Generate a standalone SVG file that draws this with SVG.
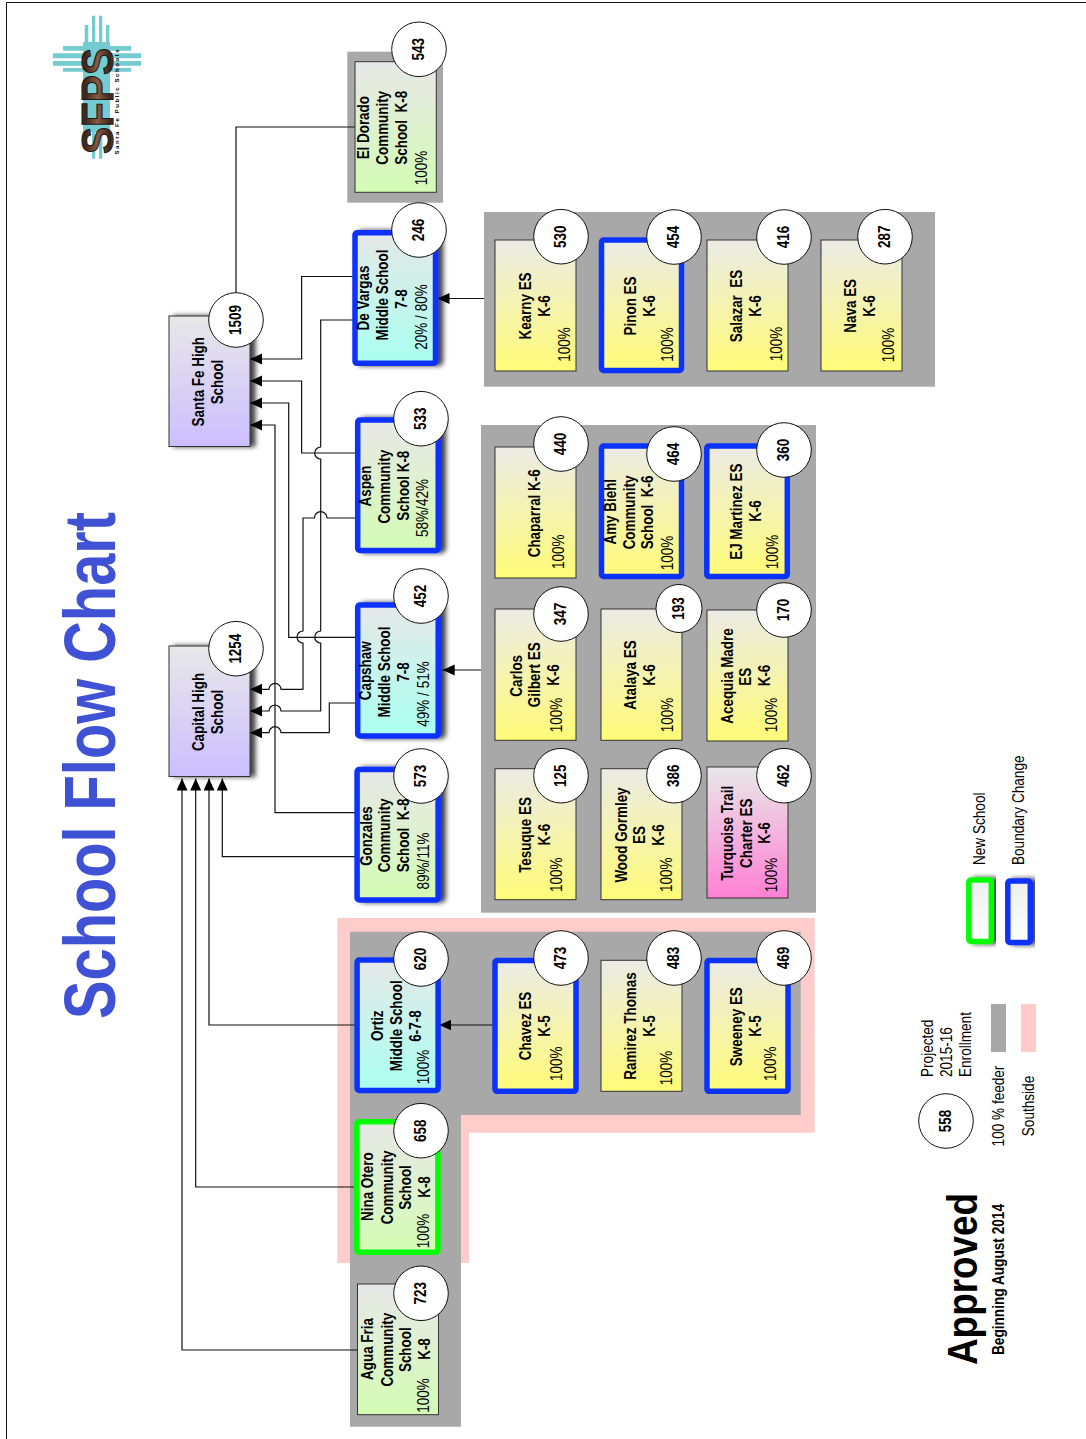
<svg xmlns="http://www.w3.org/2000/svg" width="1086" height="1439" viewBox="0 0 1086 1439">
<style>
text{font-family:"Liberation Sans",Arial,sans-serif;font-size:17px;fill:#000;text-anchor:middle}
.b{font-weight:bold}
.s{text-anchor:start}
.c{fill:#fff;stroke:#111;stroke-width:1}
.p{stroke:#333;stroke-width:1}
.blue{stroke:#0a33ff;stroke-width:5.5}
.green{stroke:#00ff00;stroke-width:5.5}
.g{fill:#a8a8a8}
.k{fill:#ffcccc}
.y{fill:url(#gy)}.gr{fill:url(#gg)}.cy{fill:url(#gc)}.l{fill:url(#gl)}.pk{fill:url(#gp)}.w{fill:url(#gw)}
.sh{filter:url(#shadow)}
#connectors path{fill:none;stroke:#111;stroke-width:1.2}
.a{marker-end:url(#arrow)}
.t{fill:#75ccd0}
</style>
<defs>
<linearGradient id="gy" x1="0" y1="0" x2="0" y2="1"><stop offset="0" stop-color="#ebebe6"/><stop offset="1" stop-color="#fffb78"/></linearGradient>
<linearGradient id="gg" x1="0" y1="0" x2="0" y2="1"><stop offset="0" stop-color="#e8e8e8"/><stop offset="1" stop-color="#d4fbb4"/></linearGradient>
<linearGradient id="gc" x1="0" y1="0" x2="0" y2="1"><stop offset="0" stop-color="#e6e8e8"/><stop offset="1" stop-color="#aafff0"/></linearGradient>
<linearGradient id="gl" x1="0" y1="0" x2="0" y2="1"><stop offset="0" stop-color="#e8e8e8"/><stop offset="1" stop-color="#ccbeff"/></linearGradient>
<linearGradient id="gp" x1="0" y1="0" x2="0" y2="1"><stop offset="0" stop-color="#e8e8e8"/><stop offset="1" stop-color="#ff80d4"/></linearGradient>
<linearGradient id="gw" x1="0" y1="0" x2="0" y2="1"><stop offset="0" stop-color="#eeeeee"/><stop offset="1" stop-color="#ffffff"/></linearGradient>
<linearGradient id="gb" x1="0" y1="0" x2="0" y2="1"><stop offset="0" stop-color="#b87a58"/><stop offset=".25" stop-color="#3a2418"/><stop offset=".5" stop-color="#8a5a42"/><stop offset=".75" stop-color="#3a2418"/><stop offset="1" stop-color="#c98a66"/></linearGradient>
<filter id="shadow" x="-20%" y="-10%" width="140%" height="120%"><feDropShadow dx="5" dy="0" stdDeviation="2.8" flood-color="#000" flood-opacity=".75"/></filter>
<marker id="arrow" markerUnits="userSpaceOnUse" markerWidth="13" markerHeight="12" refX="12" refY="5.5" orient="auto"><path d="M0 0L12 5.5L0 11Z" fill="#000"/></marker>
</defs>
<rect width="1086" height="1439" fill="#fff"/>
<path d="M6.5 1439V2.5H1086" fill="none" stroke="#111" stroke-width="1"/>

<g id="logo">
<path class="t" d="M92 15.7h3.3V45H92zM99 15.7h3.3V45H99zM84.7 25h3.6V45h-3.6zM106 25h3.3V45H106zM63 46h20v4.7H63zM53 53.3h30v5H53zM53 61h30v4.7H53zM63 68h20v3.7H63zM110 46h21v4.7h-21zM110 53.3h31v5h-31zM110 61h31v4.7h-31zM110 68h21v3.7h-21zM92 130h3.3v28.7H92zM99 130h3.3v28.7H99z"/>
<rect class="t" x="83" y="42" width="27" height="90"/>
<text class="b s" transform="translate(113,154) rotate(-90)" style="font-size:45px;fill:url(#gb);stroke:#1a1a1a;stroke-width:1.1" textLength="106" lengthAdjust="spacingAndGlyphs">SFPS</text>
<text class="b s" transform="translate(119.3,154.5) rotate(-90)" style="font-size:6px" textLength="105">Santa Fe Public Schools</text>
</g>

<text id="title" class="b s" transform="translate(115,1019) rotate(-90)" style="font-size:73px;fill:#3f51d4" textLength="507" lengthAdjust="spacingAndGlyphs">School Flow Chart</text>

<g id="panels">
<rect class="g" x="347.3" y="51.7" width="95.7" height="151"/>
<rect class="g" x="484" y="212" width="451" height="174.7"/>
<rect class="g" x="481" y="425" width="335" height="487.7"/>
<path class="k" d="M337.3 918H814.7V1132.7H469V1263H337.3Z"/>
<path class="g" d="M350 931.7H800.7V1115H461V1426.7H350Z"/>
</g>

<g id="connectors">
<path d="M355 127H236V293"/>
<path class="a" d="M355 276.5H301.6V359H250"/>
<path class="a" d="M355 320H320.7V447a6 6 0 0 0 0 12V631a6 6 0 0 0 0 12V711H281a6 6 0 0 0 -12 0H250"/>
<path class="a" d="M355 453H301.6V381H250"/>
<path class="a" d="M355 518H327a6.3 6.3 0 0 0 -12.6 0H303V631a6 6 0 0 0 0 12V689.3H281a6 6 0 0 0 -12 0H250"/>
<path class="a" d="M355 637.3H288.7V403H250"/>
<path class="a" d="M355 703H329.3V732.7H281a6 6 0 0 0 -12 0H250"/>
<path class="a" d="M355 812.7H275V425H250"/>
<path class="a" d="M355 856.7H222.3V778.5"/>
<path class="a" d="M355 1025H209V778.5"/>
<path class="a" d="M355 1187H195.7V778.5"/>
<path class="a" d="M358 1350H182V778.5"/>
<path class="a" d="M484 298.5H437.5"/>
<path class="a" d="M481 670H442.7"/>
<path class="a" d="M493 1025H439.3"/>
</g>

<g id="node-santa-fe-high"><rect class="p l sh" x="169" y="316" width="81" height="130.5"/><circle class="c" cx="236" cy="320" r="27.3"/><text class="b" transform="translate(241,320) rotate(-90) scale(.79,1)">1509</text>
<text class="b" transform="translate(204,381.7) rotate(-90) scale(.79,1)">Santa Fe High</text><text class="b" transform="translate(223,382) rotate(-90) scale(.79,1)">School</text></g>
<g id="node-capital-high"><rect class="p l sh" x="169" y="646" width="81" height="130.5"/><circle class="c" cx="236" cy="648.7" r="27.3"/><text class="b" transform="translate(241,648.7) rotate(-90) scale(.79,1)">1254</text>
<text class="b" transform="translate(204,712) rotate(-90) scale(.79,1)">Capital High</text><text class="b" transform="translate(223,712) rotate(-90) scale(.79,1)">School</text></g>

<g id="node-el-dorado"><rect class="p gr" x="355" y="61.7" width="81.3" height="130.6"/><circle class="c" cx="419" cy="49.3" r="27.3"/><text class="b" transform="translate(424,49.3) rotate(-90) scale(.79,1)">543</text>
<text class="b" transform="translate(368.6,127.7) rotate(-90) scale(.79,1)">El Dorado</text><text class="b" transform="translate(387.6,127.8) rotate(-90) scale(.79,1)">Community</text><text class="b" transform="translate(407,127.8) rotate(-90) scale(.79,1)" xml:space="preserve">School  K-8</text><text transform="translate(427,168) rotate(-90) scale(.8,1)">100%</text></g>

<g id="node-de-vargas"><rect class="blue cy sh" x="355" y="232.8" width="80.5" height="130.5" rx="2"/><circle class="c" cx="419" cy="230" r="27.3"/><text class="b" transform="translate(424,230) rotate(-90) scale(.79,1)">246</text>
<text class="b" transform="translate(369.3,298) rotate(-90) scale(.79,1)">De Vargas</text><text class="b" transform="translate(388.3,295) rotate(-90) scale(.79,1)">Middle School</text><text class="b" transform="translate(406.8,299) rotate(-90) scale(.79,1)">7-8</text><text transform="translate(426.8,317) rotate(-90) scale(.8,1)">20% / 80%</text></g>

<g id="node-aspen"><rect class="blue gr sh" x="357.7" y="420" width="80.5" height="130.5" rx="2"/><circle class="c" cx="421" cy="418.7" r="27.3"/><text class="b" transform="translate(426,418.7) rotate(-90) scale(.79,1)">533</text>
<text class="b" transform="translate(371,486) rotate(-90) scale(.79,1)">Aspen</text><text class="b" transform="translate(390,486.7) rotate(-90) scale(.79,1)">Community</text><text class="b" transform="translate(408.6,485.7) rotate(-90) scale(.79,1)">School K-8</text><text transform="translate(428.3,508) rotate(-90) scale(.8,1)">58%/42%</text></g>

<g id="node-capshaw"><rect class="blue cy sh" x="357.7" y="605" width="80.5" height="131" rx="2"/><circle class="c" cx="421" cy="596" r="27.3"/><text class="b" transform="translate(426,596) rotate(-90) scale(.79,1)">452</text>
<text class="b" transform="translate(371,670.8) rotate(-90) scale(.79,1)">Capshaw</text><text class="b" transform="translate(390,672) rotate(-90) scale(.79,1)">Middle School</text><text class="b" transform="translate(408.6,672) rotate(-90) scale(.79,1)">7-8</text><text transform="translate(428.6,694) rotate(-90) scale(.8,1)">49% / 51%</text></g>

<g id="node-gonzales"><rect class="blue gr sh" x="357.1" y="769.5" width="81" height="130.5" rx="2"/><circle class="c" cx="421" cy="776" r="27.3"/><text class="b" transform="translate(426,776) rotate(-90) scale(.79,1)">573</text>
<text class="b" transform="translate(371.6,836) rotate(-90) scale(.79,1)">Gonzales</text><text class="b" transform="translate(390,835.5) rotate(-90) scale(.79,1)">Community</text><text class="b" transform="translate(408.6,835.5) rotate(-90) scale(.79,1)" xml:space="preserve">School  K-8</text><text transform="translate(428.6,861) rotate(-90) scale(.8,1)">89%/11%</text></g>

<g id="node-ortiz"><rect class="blue cy" x="357.1" y="960" width="81" height="130.5" rx="2"/><circle class="c" cx="421" cy="959" r="27.3"/><text class="b" transform="translate(426,959) rotate(-90) scale(.79,1)">620</text>
<text class="b" transform="translate(382.6,1025.7) rotate(-90) scale(.79,1)">Ortiz</text><text class="b" transform="translate(401.6,1025.8) rotate(-90) scale(.79,1)">Middle School</text><text class="b" transform="translate(421,1026) rotate(-90) scale(.79,1)">6-7-8</text><text transform="translate(428.6,1067) rotate(-90) scale(.8,1)">100%</text></g>

<g id="node-nina-otero"><rect class="green gr" x="356.8" y="1121.8" width="81.1" height="130.5" rx="2"/><circle class="c" cx="421" cy="1130.7" r="27.3"/><text class="b" transform="translate(426,1130.7) rotate(-90) scale(.79,1)">658</text>
<text class="b" transform="translate(373.3,1186.7) rotate(-90) scale(.79,1)">Nina Otero</text><text class="b" transform="translate(392.6,1187.5) rotate(-90) scale(.79,1)">Community</text><text class="b" transform="translate(411,1187.5) rotate(-90) scale(.79,1)">School</text><text class="b" transform="translate(430.3,1187) rotate(-90) scale(.79,1)">K-8</text><text transform="translate(428.6,1231) rotate(-90) scale(.8,1)">100%</text></g>

<g id="node-agua-fria"><rect class="p gr" x="357.5" y="1284" width="81" height="130.7"/><circle class="c" cx="421" cy="1293.3" r="27.3"/><text class="b" transform="translate(426,1293.3) rotate(-90) scale(.79,1)">723</text>
<text class="b" transform="translate(373.3,1349) rotate(-90) scale(.79,1)">Agua Fria</text><text class="b" transform="translate(392.6,1349.7) rotate(-90) scale(.79,1)">Community</text><text class="b" transform="translate(411,1349.7) rotate(-90) scale(.79,1)">School</text><text class="b" transform="translate(430.3,1349) rotate(-90) scale(.79,1)">K-8</text><text transform="translate(428.6,1395.5) rotate(-90) scale(.8,1)">100%</text></g>

<g id="node-kearny"><rect class="p y" x="495" y="240" width="81" height="131"/><circle class="c" cx="561" cy="236.7" r="27.3"/><text class="b" transform="translate(566,236.7) rotate(-90) scale(.79,1)">530</text>
<text class="b" transform="translate(531,306) rotate(-90) scale(.79,1)">Kearny ES</text><text class="b" transform="translate(550,306) rotate(-90) scale(.79,1)">K-6</text><text transform="translate(570,344.5) rotate(-90) scale(.8,1)">100%</text></g>
<g id="node-pinon"><rect class="blue y" x="601.5" y="240" width="80" height="130.5" rx="2"/><circle class="c" cx="674" cy="237" r="27.3"/><text class="b" transform="translate(679,237) rotate(-90) scale(.79,1)">454</text>
<text class="b" transform="translate(636,306) rotate(-90) scale(.79,1)">Pinon ES</text><text class="b" transform="translate(655,306) rotate(-90) scale(.79,1)">K-6</text><text transform="translate(673.3,344.5) rotate(-90) scale(.8,1)">100%</text></g>
<g id="node-salazar"><rect class="p y" x="707" y="240" width="81" height="131"/><circle class="c" cx="784" cy="237" r="27.3"/><text class="b" transform="translate(789,237) rotate(-90) scale(.79,1)">416</text>
<text class="b" transform="translate(742,306) rotate(-90) scale(.79,1)" xml:space="preserve">Salazar  ES</text><text class="b" transform="translate(761,306) rotate(-90) scale(.79,1)">K-6</text><text transform="translate(782,344) rotate(-90) scale(.8,1)">100%</text></g>
<g id="node-nava"><rect class="p y" x="821" y="240" width="81" height="131"/><circle class="c" cx="885" cy="236.7" r="27.3"/><text class="b" transform="translate(890,236.7) rotate(-90) scale(.79,1)">287</text>
<text class="b" transform="translate(856,305.8) rotate(-90) scale(.79,1)">Nava ES</text><text class="b" transform="translate(875.3,306) rotate(-90) scale(.79,1)">K-6</text><text transform="translate(894.3,345) rotate(-90) scale(.8,1)">100%</text></g>

<g id="node-chaparral"><rect class="p y" x="495" y="447" width="81" height="131"/><circle class="c" cx="561" cy="444" r="27.3"/><text class="b" transform="translate(566,444) rotate(-90) scale(.79,1)">440</text>
<text class="b" transform="translate(540,513.3) rotate(-90) scale(.79,1)">Chaparral K-6</text><text transform="translate(564.3,551.7) rotate(-90) scale(.8,1)">100%</text></g>
<g id="node-amy-biehl"><rect class="blue y" x="601.5" y="446" width="80" height="130.5" rx="2"/><circle class="c" cx="674" cy="454" r="27.3"/><text class="b" transform="translate(679,454) rotate(-90) scale(.79,1)">464</text>
<text class="b" transform="translate(616,511.7) rotate(-90) scale(.79,1)">Amy Biehl</text><text class="b" transform="translate(635,512.5) rotate(-90) scale(.79,1)">Community</text><text class="b" transform="translate(653.3,512.5) rotate(-90) scale(.79,1)" xml:space="preserve">School  K-6</text><text transform="translate(673.3,553) rotate(-90) scale(.8,1)">100%</text></g>
<g id="node-ej-martinez"><rect class="blue y" x="706.8" y="446" width="80.5" height="130.5" rx="2"/><circle class="c" cx="784" cy="450" r="27.3"/><text class="b" transform="translate(789,450) rotate(-90) scale(.79,1)">360</text>
<text class="b" transform="translate(742,511.7) rotate(-90) scale(.79,1)">EJ Martinez ES</text><text class="b" transform="translate(761,511) rotate(-90) scale(.79,1)">K-6</text><text transform="translate(777.6,552) rotate(-90) scale(.8,1)">100%</text></g>

<g id="node-carlos-gilbert"><rect class="p y" x="495" y="609" width="81" height="131.3"/><circle class="c" cx="561" cy="614" r="27.3"/><text class="b" transform="translate(566,614) rotate(-90) scale(.79,1)">347</text>
<text class="b" transform="translate(521.6,675.8) rotate(-90) scale(.79,1)">Carlos</text><text class="b" transform="translate(540.3,674.8) rotate(-90) scale(.79,1)">Gilbert ES</text><text class="b" transform="translate(559.3,675) rotate(-90) scale(.79,1)">K-6</text><text transform="translate(561.6,715) rotate(-90) scale(.8,1)">100%</text></g>
<g id="node-atalaya"><rect class="p y" x="601" y="609" width="81" height="131.3"/><ellipse class="c" cx="679" cy="608.5" rx="23" ry="24"/><text class="b" transform="translate(684,608.5) rotate(-90) scale(.79,1)">193</text>
<text class="b" transform="translate(636,675) rotate(-90) scale(.79,1)">Atalaya ES</text><text class="b" transform="translate(655,675) rotate(-90) scale(.79,1)">K-6</text><text transform="translate(672.6,715) rotate(-90) scale(.8,1)">100%</text></g>
<g id="node-acequia"><rect class="p y" x="707" y="610" width="81" height="131"/><circle class="c" cx="784" cy="610" r="27.3"/><text class="b" transform="translate(789,610) rotate(-90) scale(.79,1)">170</text>
<text class="b" transform="translate(732.6,676) rotate(-90) scale(.79,1)">Acequia Madre</text><text class="b" transform="translate(751,676.7) rotate(-90) scale(.79,1)">ES</text><text class="b" transform="translate(770.3,675.5) rotate(-90) scale(.79,1)">K-6</text><text transform="translate(776.6,715) rotate(-90) scale(.8,1)">100%</text></g>

<g id="node-tesuque"><rect class="p y" x="495" y="768.7" width="81" height="131"/><circle class="c" cx="561" cy="775.7" r="27.3"/><text class="b" transform="translate(566,775.7) rotate(-90) scale(.79,1)">125</text>
<text class="b" transform="translate(531,835) rotate(-90) scale(.79,1)">Tesuque ES</text><text class="b" transform="translate(550,834.7) rotate(-90) scale(.79,1)">K-6</text><text transform="translate(561.6,874.7) rotate(-90) scale(.8,1)">100%</text></g>
<g id="node-wood-gormley"><rect class="p y" x="601" y="768.7" width="81" height="131"/><circle class="c" cx="674" cy="775.7" r="27.3"/><text class="b" transform="translate(679,775.7) rotate(-90) scale(.79,1)">386</text>
<text class="b" transform="translate(626.6,835) rotate(-90) scale(.79,1)">Wood Gormley</text><text class="b" transform="translate(645.3,835) rotate(-90) scale(.79,1)">ES</text><text class="b" transform="translate(663.6,835) rotate(-90) scale(.79,1)">K-6</text><text transform="translate(672,874.7) rotate(-90) scale(.8,1)">100%</text></g>
<g id="node-turquoise-trail"><rect class="p pk" x="707" y="767" width="81" height="131"/><circle class="c" cx="784" cy="775.7" r="27.3"/><text class="b" transform="translate(789,775.7) rotate(-90) scale(.79,1)">462</text>
<text class="b" transform="translate(732.6,833.3) rotate(-90) scale(.79,1)">Turquoise Trail</text><text class="b" transform="translate(751.6,833.3) rotate(-90) scale(.79,1)">Charter ES</text><text class="b" transform="translate(770.3,833) rotate(-90) scale(.79,1)">K-6</text><text transform="translate(776.6,875) rotate(-90) scale(.8,1)">100%</text></g>

<g id="node-chavez"><rect class="blue y" x="495" y="960.5" width="81" height="130.8" rx="2"/><circle class="c" cx="561" cy="958" r="27.3"/><text class="b" transform="translate(566,958) rotate(-90) scale(.79,1)">473</text>
<text class="b" transform="translate(531,1026) rotate(-90) scale(.79,1)">Chavez ES</text><text class="b" transform="translate(550,1026) rotate(-90) scale(.79,1)">K-5</text><text transform="translate(561.6,1063.7) rotate(-90) scale(.8,1)">100%</text></g>
<g id="node-ramirez-thomas"><rect class="p y" x="601" y="960.3" width="81" height="131"/><circle class="c" cx="674" cy="958" r="27.3"/><text class="b" transform="translate(679,958) rotate(-90) scale(.79,1)">483</text>
<text class="b" transform="translate(636,1026) rotate(-90) scale(.79,1)">Ramirez Thomas</text><text class="b" transform="translate(655,1026) rotate(-90) scale(.79,1)">K-5</text><text transform="translate(672,1068) rotate(-90) scale(.8,1)">100%</text></g>
<g id="node-sweeney"><rect class="blue y" x="707" y="960.5" width="81" height="130.8" rx="2"/><circle class="c" cx="784" cy="958" r="27.3"/><text class="b" transform="translate(789,958) rotate(-90) scale(.79,1)">469</text>
<text class="b" transform="translate(742,1026.7) rotate(-90) scale(.79,1)">Sweeney ES</text><text class="b" transform="translate(761,1026) rotate(-90) scale(.79,1)">K-5</text><text transform="translate(776,1063.7) rotate(-90) scale(.8,1)">100%</text></g>

<g id="legend">
<circle class="c" cx="946" cy="1121" r="27.3"/><text class="b" transform="translate(951,1121) rotate(-90) scale(.79,1)">558</text>
<text class="s" transform="translate(933,1077) rotate(-90) scale(.8,1)">Projected</text>
<text class="s" transform="translate(952,1077) rotate(-90) scale(.8,1)">2015-16</text>
<text class="s" transform="translate(971,1077) rotate(-90) scale(.8,1)">Enrollment</text>
<rect class="g" x="991" y="1004" width="15" height="48"/>
<rect class="k" x="1021" y="1004" width="15" height="48"/>
<text transform="translate(1004,1106) rotate(-90) scale(.8,1)">100 % feeder</text>
<text transform="translate(1034,1106) rotate(-90) scale(.8,1)">Southside</text>
<rect class="green w sh" x="968.8" y="880" width="22.5" height="61.5" rx="2"/>
<rect class="blue w sh" x="1007.8" y="881" width="22.5" height="61.5" rx="2"/>
<text class="s" transform="translate(985,865) rotate(-90) scale(.8,1)">New School</text>
<text class="s" transform="translate(1024,865) rotate(-90) scale(.8,1)">Boundary Change</text>
<text class="b s" transform="translate(977,1365) rotate(-90)" style="font-size:42px" textLength="172" lengthAdjust="spacingAndGlyphs">Approved</text>
<text class="b s" transform="translate(1004,1355) rotate(-90)" style="font-size:16px" textLength="151" lengthAdjust="spacingAndGlyphs">Beginning August 2014</text>
</g>
</svg>
